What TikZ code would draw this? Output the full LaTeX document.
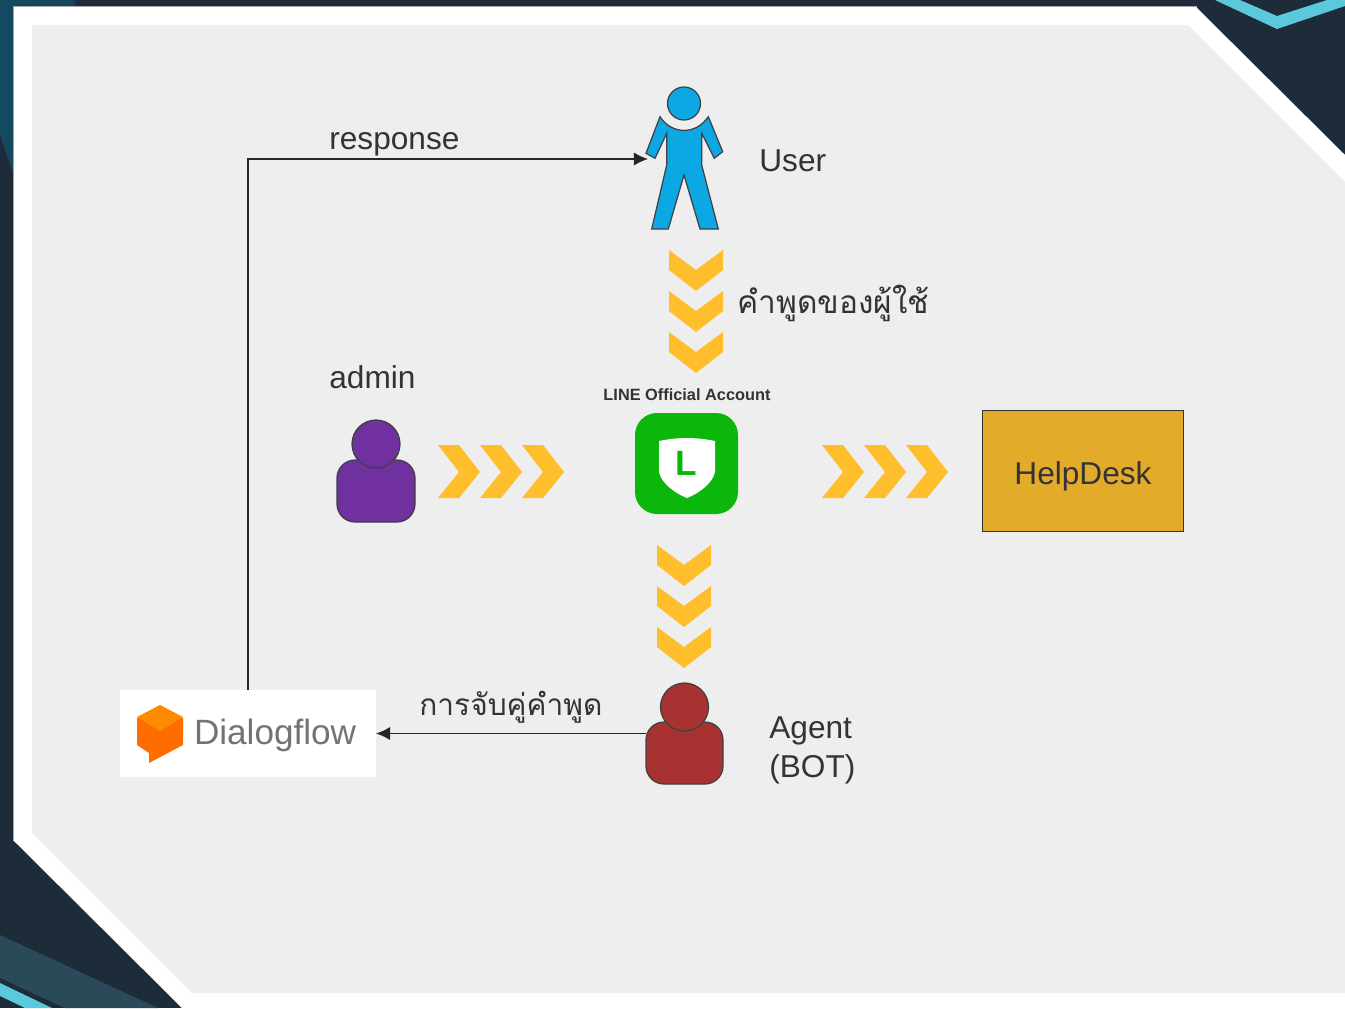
\documentclass[tikz,border=0pt]{standalone}
\usepackage{fontspec}
\setmainfont{Liberation Sans}
\newfontfamily\thaifont[Script=Thai]{Loma}
\usetikzlibrary{arrows.meta}
\definecolor{slidedark}{HTML}{1E2C3A}
\definecolor{slideteal}{HTML}{134B62}
\definecolor{slideband}{HTML}{2A4A59}
\definecolor{slidecyan}{HTML}{5BC8DC}
\definecolor{panelgray}{HTML}{EEEEEE}
\definecolor{chevcol}{HTML}{FFBE2C}
\definecolor{usercol}{HTML}{0CA8E4}
\definecolor{admincol}{HTML}{7030A0}
\definecolor{agentcol}{HTML}{A83232}
\definecolor{linecol}{HTML}{0AB70A}
\definecolor{deskcol}{HTML}{E3AB2A}
\definecolor{textcol}{HTML}{333333}
\begin{document}
\begin{tikzpicture}[x=0.02cm,y=-0.02cm,
  label/.style={text=textcol,font=\fontsize{18}{21}\selectfont,inner sep=0pt},
  thailabel/.style={text=textcol,font=\thaifont\fontsize{18}{21}\selectfont,inner sep=0pt},
  chevron/.style={fill=chevcol},
  figure/.style={draw=black!75,line width=0.7pt},
  place/.style={inner sep=0pt,outer sep=0pt},
  conn/.style={draw=black!85,line width=0.8pt,-{Latex[length=8pt,width=7.5pt]}}]
  \useasboundingbox (0,0) rectangle (1345,1008);

  % Define chevron outlines, one pointing down and one pointing right.
  \def\chevd{(0,0) -- (27,20) -- (54,0) -- (54,20) -- (27,41) -- (0,20) -- cycle}
  \def\chevr{(0,0) -- (21,0) -- (42,27) -- (21,53) -- (0,53) -- (21,27) -- cycle}

  % Slide background
  \fill[slidedark] (0,0) rectangle (1345,1008);
  \shade[left color=slideteal,right color=slideteal!80!slidedark] (0,0) -- (75,0) -- (75,8) -- (14,8) -- (14,175) -- (0,135) -- cycle;
  \fill[slideband] (0,935) -- (158,1008) -- (65,1008) -- (0,978) -- cycle;
  \fill[slidecyan] (0,983) -- (52,1008) -- (25,1008) -- (0,996) -- cycle;
  \fill[slidecyan] (1215,0) -- (1240,0) -- (1277,16) -- (1327,0) -- (1345,0) -- (1345,6) -- (1277,29) -- cycle;

  % Panel
  \fill[black!35] (13,6) -- (1197,6) -- (1197,10) -- (13,10) -- cycle;
  \fill[black!35] (13,6) rectangle (17,841);
  \fill[white] (14,7) -- (1196,7) -- (1345,155) -- (1345,1008) -- (182,1008) -- (14,841) -- cycle;
  \fill[panelgray] (32,25) -- (1188,25) -- (1345,182) -- (1345,993) -- (192,993) -- (32,833) -- cycle;

  % Define places of the figures.
  \node[place,minimum width=1.48cm,minimum height=2.84cm] (user) at (685,159) {};
  \node[place,minimum width=1.54cm,minimum height=2cm] (agent) at (684.5,733.5) {};
  \node[place,fill=white,minimum width=5.12cm,minimum height=1.74cm] (dialogflow) at (248,733.5) {};

  % USER
  \draw[figure,fill=usercol,line join=miter] (660,116.7) .. controls (672,135) and (696,135) .. (708.3,116.7)
    -- (722.7,151.7) -- (714.3,158.3) -- (701.7,133.3) -- (701.7,165) -- (718.3,229) -- (700,229)
    -- (684,175) -- (668.3,229) -- (651.7,229) -- (666.7,165) -- (666.7,133.3) -- (655,158.3) -- (646,153.3) -- cycle;
  \draw[figure,fill=usercol] (684,103.5) circle (16.5);
  \node[label,anchor=west] (userlabel) at (759,160.5) {User};

  % ADMIN
  \draw[figure,fill=admincol,rounded corners=0.36cm] (337,460) rectangle (415,522);
  \draw[figure,fill=admincol] (376,444) circle (24);
  \node[label,anchor=west] (adminlabel) at (329,377) {admin};

  % AGENT
  \draw[figure,fill=agentcol,rounded corners=0.36cm] (646,722) rectangle (723,784);
  \draw[figure,fill=agentcol] (684.5,707) circle (24);
  \node[label,anchor=west] (agentlabel) at (769,731) {Agent};
  \node[label,anchor=west] (botlabel) at (769,769) {(BOT)};

  % LINE
  \fill[linecol,rounded corners=0.44cm] (635,413) rectangle (738,514);
  \fill[white] (659,441) .. controls (678,437) and (696,437) .. (715,441) -- (715,472)
    .. controls (713,483) and (698,494) .. (687,498) .. controls (676,494) and (661,483) .. (659,472) -- cycle;
  \node[place,text=linecol,font=\bfseries\fontsize{20}{20}\selectfont] (lineletter) at (686,463) {L};
  \node[place,text=textcol,font=\bfseries\fontsize{9.3}{11}\selectfont] (linelabel) at (687,395) {LINE Official Account};

  % HELPDESK
  \node[draw=black!80,fill=deskcol,line width=0.8pt,minimum width=4.02cm,minimum height=2.42cm] (helpdesk) at (1083,471) {};
  \node[label] (helpdesklabel) at (1083,476) {HelpDesk};

  % DIALOGFLOW
  \fill[orange!85!red] (160,705) -- (183,718) -- (183,745) -- (149,763) -- (149,753) -- (137,745) -- (137,718) -- cycle;
  \fill[orange!90!yellow] (160,705) -- (183,717) -- (160,731) -- (137,717) -- cycle;
  \node[place,anchor=west,text=black!55,font=\fontsize{20}{24}\selectfont] (dialogflowlabel) at (194,735.5) {Dialogflow};

  % Chevrons
  \foreach \y in {250,291,332} \fill[chevron,shift={(669,\y)}] \chevd;
  \foreach \y in {545,586,627} \fill[chevron,shift={(657,\y)}] \chevd;
  \foreach \x in {438,480,522} \fill[chevron,shift={(\x,445)}] \chevr;
  \foreach \x in {822,864,906} \fill[chevron,shift={(\x,445)}] \chevr;
  \node[thailabel,anchor=west] (saylabel) at (737,303) {คำพูดของผู้ใช้};

  % Connectors
  \draw[conn] (dialogflow.north) |- (user.west);
  \draw[conn] (agent.west) -- (dialogflow.east);
  \node[label,anchor=west] (responselabel) at (329,144) {response};
  \node[thailabel,font=\thaifont\fontsize{17}{21}\selectfont,anchor=west] (matchlabel) at (419,707) {การจับคู่คำพูด};
\end{tikzpicture}
\end{document}
